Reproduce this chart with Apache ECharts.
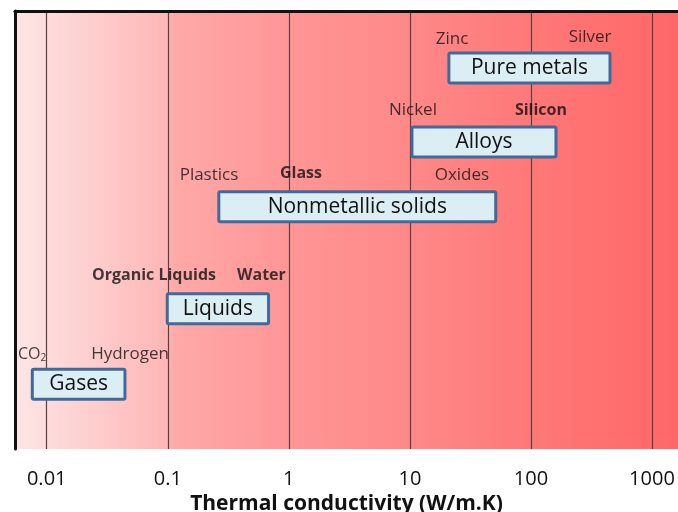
<!DOCTYPE html>
<html>
<head>
<meta charset="utf-8">
<title>Thermal conductivity</title>
<script src="https://cdn.jsdelivr.net/npm/echarts@6/dist/echarts.min.js"></script>
<style>
  html, body { margin: 0; padding: 0; background: #fff; }
  #chart { width: 678px; height: 512px; }
</style>
</head>
<body>
<div id="chart"></div>
<script>
// material classes: range of conductivity (W/m.K) and row (0 top .. 100 bottom)
var boxNames = ['Pure metals', 'Alloys', 'Nonmetallic solids', 'Liquids', 'Gases'];
var boxLow   = [21, 10.4, 0.264, 0.099, 0.0076];
var boxHigh  = [450, 161, 51.2, 0.68, 0.0443];
var boxRow   = [13, 29.9, 44.7, 68, 85.2];

// example materials written above the boxes
var noteNames = ['Zinc', 'Silver', 'Nickel', 'Silicon', 'Plastics', 'Glass', 'Oxides', 'Organic Liquids', 'Water', 'CO2', 'Hydrogen'];
var noteX     = [22.3, 308, 10.6, 121, 0.219, 1.26, 26.9, 0.0769, 0.594, 0.00757, 0.0488];
var noteRow   = [6.4, 5.9, 22.6, 22.6, 37.4, 37.0, 37.4, 60.3, 60.3, 78.3, 78.3];
var noteBold  = [false, false, false, true, false, true, false, true, true, false, false];

var xMin = 0.00547, xMax = 1640;

var FONT = '"Open Sans", "Noto Sans", sans-serif';

var chart = echarts.init(document.getElementById('chart'));

var boxData = boxNames.map(function (n, i) {
  return [boxLow[i], boxHigh[i], boxRow[i], n];
});

var noteData = noteNames.map(function (n, i) {
  var item = { name: n, value: [noteX[i], noteRow[i]] };
  if (noteBold[i]) {
    item.label = { fontWeight: 'bold', fontSize: 16 };
  }
  if (n === 'CO2') {
    item.label = {
      formatter: '{a|CO}{s|2}',
      rich: {
        a: { fontSize: 16, fontFamily: FONT, color: '#111' },
        s: { fontSize: 10, fontFamily: FONT, color: '#111', padding: [8, 0, 0, 0] }
      }
    };
  }
  return item;
});

chart.setOption({
  animation: false,
  grid: {
    left: 15, top: 11, right: 0, bottom: 63,
    outerBoundsMode: 'none',
    show: true,
    borderWidth: 0,
    backgroundColor: {
      type: 'linear', x: 0, y: 0, x2: 1, y2: 0,
      colorStops: [
        { offset: 0, color: '#fde6e6' },
        { offset: 0.23, color: '#ffb6b6' },
        { offset: 0.24, color: '#ffa9a9' },
        { offset: 0.42, color: '#ff9595' },
        { offset: 0.6, color: '#ff8888' },
        { offset: 0.78, color: '#ff7878' },
        { offset: 1, color: '#ff6767' }
      ]
    }
  },
  xAxis: [
    {
      type: 'log',
      min: xMin,
      max: xMax,
      name: 'Thermal conductivity (W/m.K)',
      nameLocation: 'middle',
      nameGap: 39,
      nameTextStyle: { fontSize: 21, fontWeight: 'bold', color: '#111', fontFamily: FONT },
      axisLine: { show: true, lineStyle: { color: '#111', width: 3 } },
      axisTick: { show: false },
      axisLabel: {
        fontSize: 20, color: '#111', fontFamily: FONT, margin: 20,
        showMinLabel: false, showMaxLabel: false,
        formatter: function (v) { return String(Number(v.toPrecision(6))); }
      },
      splitLine: {
        show: true, showMinLine: false, showMaxLine: false,
        lineStyle: { color: '#5a4040', width: 1.2 }
      }
    },
    {
      // top frame line only
      type: 'log',
      position: 'top',
      min: xMin,
      max: xMax,
      axisLine: { show: true, lineStyle: { color: '#111', width: 2.5 } },
      axisTick: { show: false },
      axisLabel: { show: false },
      splitLine: { show: false }
    }
  ],
  yAxis: {
    type: 'value',
    min: 0, max: 100,
    inverse: true,
    axisLine: { show: true, lineStyle: { color: '#111', width: 3 } },
    axisTick: { show: false },
    axisLabel: { show: false },
    splitLine: { show: false }
  },
  series: [
    {
      type: 'custom',
      data: boxData,
      encode: { x: [0, 1], y: 2 },
      renderItem: function (params, api) {
        var a = api.coord([api.value(0), api.value(2)]);
        var b = api.coord([api.value(1), api.value(2)]);
        var h = 30;
        return {
          type: 'rect',
          shape: { x: a[0], y: a[1] - h / 2, width: b[0] - a[0], height: h, r: 1.5 },
          style: { fill: '#dbeef4', stroke: '#41699a', lineWidth: 3 },
          textContent: {
            style: {
              text: boxNames[params.dataIndex],
              fontSize: 21, fontFamily: FONT, fill: '#111'
            }
          },
          textConfig: { position: 'inside' }
        };
      }
    },
    {
      type: 'scatter',
      symbolSize: 0,
      data: noteData,
      label: {
        show: true,
        position: 'inside',
        formatter: '{b}',
        fontSize: 17,
        fontFamily: FONT,
        color: '#111'
      }
    }
  ]
});
</script>
</body>
</html>
